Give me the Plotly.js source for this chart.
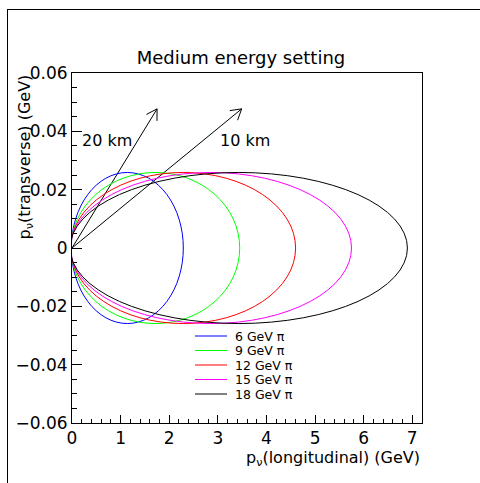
<!DOCTYPE html>
<html>
<head>
<meta charset="utf-8">
<script src="https://cdn.plot.ly/plotly-3.0.1.min.js"></script>
<style>
  html, body { margin: 0; padding: 0; background: #fff; }
  #chart { position: absolute; left: 0; top: 0; width: 480px; height: 483px; }
  #frame { position: absolute; left: 7px; top: 9px; width: 480px; height: 480px;
           border-left: 1px solid #000; border-top: 1px solid #000; pointer-events: none; }
</style>
</head>
<body>
<div id="chart"></div>
<div id="frame"></div>
<script>
// ---- data ----
const pionEnergies = [6, 9, 12, 15, 18];
const legendLabels = ['6 GeV π', '9 GeV π', '12 GeV π', '15 GeV π', '18 GeV π'];
const seriesColors = ['#0000ff', '#00ff00', '#ff0000', '#ff00ff', '#000000'];
const ellipseLeft  = [-0.014, -0.021, -0.028, -0.035, -0.042];   // GeV (left vertex, just behind the axis)
const ellipseRight = [2.29, 3.45, 4.60, 5.75, 6.90];              // GeV (max longitudinal momentum)
const ellipsePtMax = [0.0259, 0.0259, 0.0259, 0.0259, 0.0259];    // GeV (max transverse momentum)

const arrowLabels = ['20 km', '10 km'];
const arrowTipX = [1.75, 3.49];
const arrowTipY = [0.0477, 0.0477];

// ---- layout geometry ----
const W = 480, H = 483;
const M = {l: 72, r: 58, t: 73, b: 60};
const xRange = [0, 7.2], yRange = [-0.06, 0.06];
const plotW = W - M.l - M.r, plotH = H - M.t - M.b;
const pxPerX = plotW / (xRange[1] - xRange[0]);
const pxPerY = plotH / (yRange[1] - yRange[0]);
const FONT = 'DejaVu Sans, sans-serif';

const traces = [];
const shapes = [];
const annotations = [];

// arrows: shaft plus an open arrowhead (barbs sized in pixels, placed at the tip)
arrowTipX.forEach((tx, i) => {
  const ty = arrowTipY[i];
  const dxp = -tx * pxPerX, dyp = -ty * pxPerY;          // toward origin, in pixel units (y up)
  const len = Math.hypot(dxp, dyp), ux = dxp / len, uy = dyp / len;
  const ang = 31 * Math.PI / 180, bl = 12;
  const barb = a => [tx + (ux * Math.cos(a) - uy * Math.sin(a)) * bl / pxPerX,
                     ty + (ux * Math.sin(a) + uy * Math.cos(a)) * bl / pxPerY];
  const b1 = barb(ang), b2 = barb(-ang);
  traces.push({
    type: 'scatter', mode: 'lines', x: [0, tx], y: [0, ty],
    line: {color: '#000', width: 1}, showlegend: false, hoverinfo: 'skip'
  });
  traces.push({
    type: 'scatter', mode: 'lines', x: [b1[0], tx, b2[0]], y: [b1[1], ty, b2[1]],
    line: {color: '#000', width: 1}, showlegend: false, hoverinfo: 'skip'
  });
});

// ellipses
pionEnergies.forEach((e, i) => {
  shapes.push({
    type: 'circle', xref: 'x', yref: 'y',
    x0: ellipseLeft[i], x1: ellipseRight[i],
    y0: -ellipsePtMax[i], y1: ellipsePtMax[i],
    line: {color: seriesColors[i], width: 1}, fillcolor: 'rgba(0,0,0,0)', layer: 'above'
  });
});

// legend (drawn manually)
const legX0 = (195 - M.l) / plotW, legX1 = (227 - M.l) / plotW, legTx = (234 - M.l) / plotW;
const legY0 = (H - M.b - 336) / plotH, legDy = 14.5 / plotH;
legendLabels.forEach((lab, i) => {
  const yy = legY0 - i * legDy;
  shapes.push({type: 'line', xref: 'paper', yref: 'paper', x0: legX0, x1: legX1, y0: yy, y1: yy,
               line: {color: seriesColors[i], width: 1}});
  annotations.push({xref: 'paper', yref: 'paper', x: legTx, y: yy, xanchor: 'left', yanchor: 'middle',
                    text: lab, showarrow: false, borderpad: 0,
                    font: {family: FONT, size: 12.5, color: '#000'}});
});

// arrow labels
annotations.push({xref: 'x', yref: 'y', x: 0.72, y: 0.0367, text: arrowLabels[0], showarrow: false,
                  font: {family: FONT, size: 16, color: '#000'}});
annotations.push({xref: 'x', yref: 'y', x: 3.555, y: 0.0367, text: arrowLabels[1], showarrow: false,
                  font: {family: FONT, size: 16, color: '#000'}});

// axis titles
annotations.push({xref: 'paper', yref: 'paper', x: 1, y: (H - M.b - 458) / plotH, xanchor: 'right', yanchor: 'middle',
                  text: 'p<sub>ν</sub>(longitudinal) (GeV)', showarrow: false,
                  font: {family: FONT, size: 16, color: '#000'}});
annotations.push({xref: 'paper', yref: 'paper', x: (25 - M.l) / plotW, y: 1, xanchor: 'center', yanchor: 'top',
                  textangle: -90, text: 'p<sub>ν</sub>(transverse) (GeV)', showarrow: false,
                  font: {family: FONT, size: 16, color: '#000'}});

const layout = {
  width: W, height: H,
  margin: M,
  paper_bgcolor: 'rgba(0,0,0,0)', plot_bgcolor: 'rgba(0,0,0,0)',
  showlegend: false,
  title: {text: 'Medium energy setting', x: 241 / W, xanchor: 'center',
          y: 1 - 58 / H, yanchor: 'middle', yref: 'container',
          font: {family: FONT, size: 18, color: '#000'}},
  xaxis: {range: xRange, dtick: 1, tick0: 0, ticks: 'inside', ticklen: 8, tickcolor: '#000',
          minor: {dtick: 0.2, ticks: 'inside', ticklen: 4, tickcolor: '#000'},
          showline: true, mirror: true, linecolor: '#000', linewidth: 1,
          showgrid: false, zeroline: false,
          tickfont: {family: FONT, size: 17, color: '#000'}},
  yaxis: {range: yRange, dtick: 0.02, tick0: 0, ticks: 'inside', ticklen: 10, tickcolor: '#000',
          minor: {dtick: 0.005, ticks: 'inside', ticklen: 5, tickcolor: '#000'},
          showline: true, mirror: true, linecolor: '#000', linewidth: 1,
          showgrid: false, zeroline: false,
          tickfont: {family: FONT, size: 17, color: '#000'}},
  shapes: shapes,
  annotations: annotations
};

Plotly.newPlot('chart', traces, layout, {staticPlot: true, displayModeBar: false});
</script>
</body>
</html>
